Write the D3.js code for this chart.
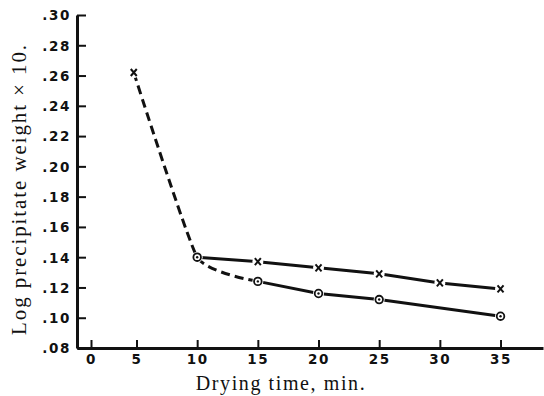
<!DOCTYPE html>
<html>
<head>
  <meta charset="utf-8">
  <title>Drying time</title>
  <style>
  body { margin: 0; background: #fff; }
  .axis text { font-family: "DejaVu Sans", sans-serif; font-weight: bold; font-size: 13.5px; letter-spacing: 1.6px; fill: #111; }
  .title { font-family: "Liberation Serif", serif; font-size: 20px; fill: #111; }
  </style>
</head>
<body>
  <svg width="544" height="396"></svg>
  <script src="https://d3js.org/d3.v7.min.js"></script>
  <script>
    // tick values and labels
    var xTicks = [0, 5, 10, 15, 20, 25, 30, 35];
    var yTicks = [0.08, 0.10, 0.12, 0.14, 0.16, 0.18, 0.20, 0.22, 0.24, 0.26, 0.28, 0.30];
    var yTickLabels = [".08", ".10", ".12", ".14", ".16", ".18", ".20", ".22", ".24", ".26", ".28", ".30"];

    // upper series (x marks), solid
    var upperTime = [10, 15, 20, 25, 30, 35];
    var upperVal = [0.140, 0.137, 0.133, 0.129, 0.123, 0.119];
    // lower series (circles), solid
    var lowerTime = [10, 15, 20, 25, 35];
    var lowerVal = [0.140, 0.124, 0.116, 0.112, 0.101];
    // dashed portion
    var dashTime = [4.7, 10, 15];
    var dashVal = [0.262, 0.140, 0.124];

    var svg = d3.select("svg");

    // the printed axis puts 0 a little off the origin
    var x = d3.scaleLinear().domain([-1.15, 0, 5, 38.5]).range([77, 91, 136.5, 543]);
    var y = d3.scaleLinear().domain([0.08, 0.30]).range([348, 15]);

    var xAxis = svg.append("g").attr("class", "axis")
      .attr("transform", "translate(0,348)")
      .call(d3.axisBottom(x).tickValues(xTicks).tickSizeInner(-8).tickSizeOuter(0).tickPadding(6));
    var yAxis = svg.append("g").attr("class", "axis")
      .attr("transform", "translate(77,0)")
      .call(d3.axisLeft(y).tickValues(yTicks).tickFormat((d, i) => yTickLabels[i])
        .tickSizeInner(-9).tickSizeOuter(0).tickPadding(6));

    svg.selectAll(".axis .domain").attr("stroke", "#111").attr("stroke-width", 3);
    svg.selectAll(".axis .tick line").attr("stroke", "#111").attr("stroke-width", 2);
    yAxis.selectAll("text").attr("dy", "0.36em");

    function pts(t, v) { return t.map((d, i) => [x(d), y(v[i])]); }

    var line = d3.line();
    var curved = d3.line().curve(d3.curveCardinal.tension(0.55));

    svg.append("path").attr("d", curved(pts(dashTime, dashVal)))
      .attr("fill", "none").attr("stroke", "#111").attr("stroke-width", 3)
      .attr("stroke-dasharray", "9,5");
    svg.append("path").attr("d", line(pts(upperTime, upperVal)))
      .attr("fill", "none").attr("stroke", "#111").attr("stroke-width", 3);
    svg.append("path").attr("d", line(pts(lowerTime.slice(1), lowerVal.slice(1))))
      .attr("fill", "none").attr("stroke", "#111").attr("stroke-width", 3);

    // markers
    var crosses = pts([dashTime[0]].concat(upperTime.slice(1)), [dashVal[0]].concat(upperVal.slice(1)));
    var circles = pts(lowerTime, lowerVal);

    svg.selectAll(".gap").data(crosses.concat(circles)).join("circle")
      .attr("cx", d => d[0]).attr("cy", d => d[1]).attr("r", 5.5).attr("fill", "#fff");

    svg.selectAll(".cross").data(crosses).join("path")
      .attr("d", d => "M" + (d[0] - 3) + "," + (d[1] - 3.5) + "L" + (d[0] + 3) + "," + (d[1] + 3.5) +
        "M" + (d[0] + 3) + "," + (d[1] - 3.5) + "L" + (d[0] - 3) + "," + (d[1] + 3.5))
      .attr("stroke", "#111").attr("stroke-width", 2);

    svg.selectAll(".ring").data(circles).join("circle")
      .attr("cx", d => d[0]).attr("cy", d => d[1]).attr("r", 3.8)
      .attr("fill", "#fff").attr("stroke", "#111").attr("stroke-width", 1.8);
    svg.selectAll(".dot").data(circles).join("circle")
      .attr("cx", d => d[0]).attr("cy", d => d[1]).attr("r", 1.2).attr("fill", "#111");

    // titles
    svg.append("text").attr("class", "title")
      .attr("x", 281).attr("y", 390).attr("text-anchor", "middle")
      .style("letter-spacing", "1.6px")
      .text("Drying time, min.");
    svg.append("text").attr("class", "title")
      .attr("transform", "translate(26,189) rotate(-90)").attr("text-anchor", "middle")
      .style("font-size", "21px").style("letter-spacing", "1.9px")
      .text("Log precipitate weight \u00d7 10.");
  </script>
</body>
</html>
